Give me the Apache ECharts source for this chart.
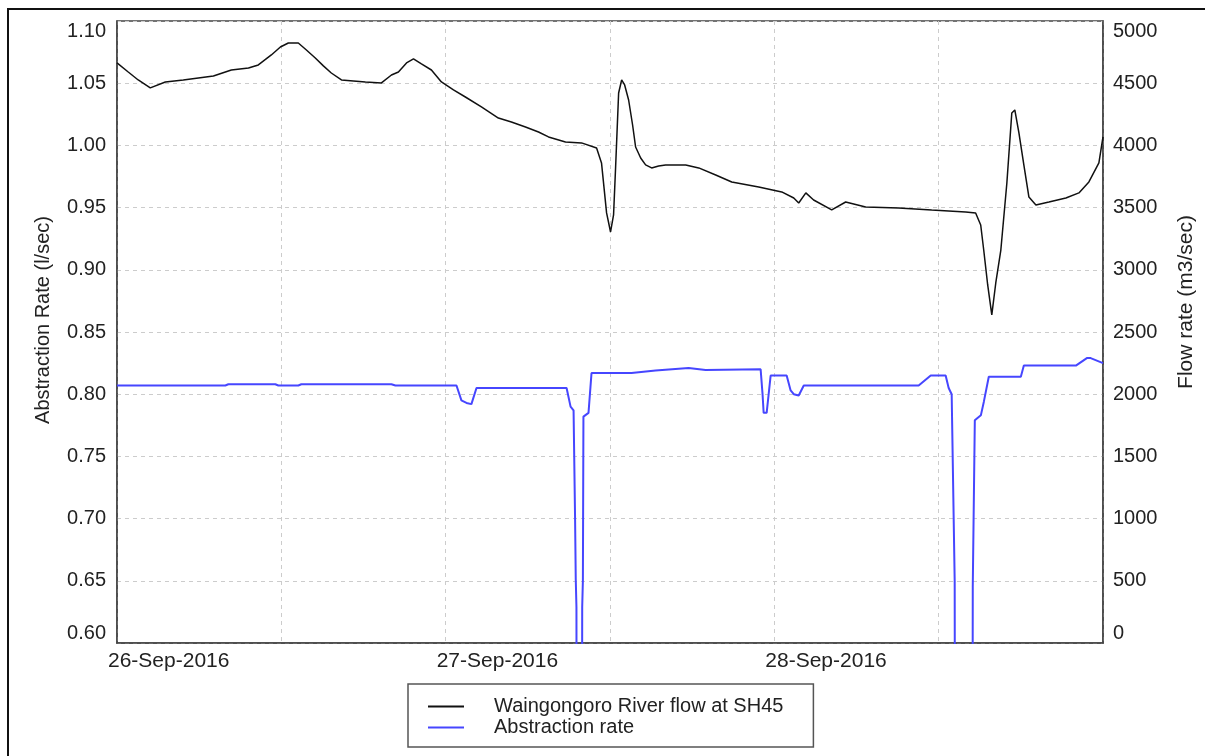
<!DOCTYPE html>
<html>
<head>
<meta charset="utf-8">
<script src="https://cdn.jsdelivr.net/npm/echarts@6/dist/echarts.min.js"></script>
<style>
  html, body { margin: 0; padding: 0; background: #fff; }
  #chartFlow { width: 1205px; height: 756px; }
</style>
</head>
<body>
<div id="chartFlow"></div>
<script>
// hours since 26-Sep-2016 00:00
var xTickLabels = ['26-Sep-2016', '', '27-Sep-2016', '', '28-Sep-2016', '', ''];

var seriesNames = ['Waingongoro River flow at SH45', 'Abstraction rate'];

var flowHours = [0, 0.82, 1.55, 2.43, 3.53, 4.84, 5.94, 7.04, 8.35, 9.6, 10.32, 11.27, 11.93, 12.51, 13.24,
  13.83, 14.48, 15.07, 15.65, 16.39, 17.26, 18.14, 19.31, 20.04, 20.55, 21.14, 21.65, 22.23, 22.96, 23.69,
  24.57, 25.44, 26.61, 27.85, 28.8, 29.83, 30.78, 31.51, 32.75, 33.92, 35.02, 35.38, 35.75, 36.04, 36.26,
  36.41, 36.63, 36.85, 37.07, 37.36, 37.65, 37.87, 38.24, 38.6, 39.04, 39.55, 40.06, 41.53, 42.48, 43.72,
  44.89, 46.86, 48.54, 49.42, 49.78, 50.3, 50.87, 52.19, 53.21, 54.67, 57.08, 59.49, 61.97, 62.7, 63.07,
  63.29, 63.58, 63.88, 64.17, 64.54, 64.98, 65.34, 65.56, 65.86, 66.22, 66.59, 67.1, 68.05, 69.29, 70.24,
  70.97, 71.7, 72];
var flowValues = [4663, 4590, 4526, 4462, 4510, 4526, 4542, 4558, 4606, 4622, 4647, 4727, 4791, 4823, 4823,
  4767, 4703, 4639, 4582, 4526, 4518, 4510, 4502, 4566, 4590, 4663, 4695, 4655, 4606, 4510,
  4446, 4389, 4309, 4220, 4188, 4148, 4108, 4068, 4028, 4020, 3979, 3859, 3457, 3304, 3441,
  3827, 4421, 4526, 4486, 4365, 4164, 3987, 3899, 3843, 3819, 3835, 3843, 3843, 3819, 3762,
  3706, 3666, 3626, 3577, 3537, 3618, 3561, 3481, 3545, 3505, 3497, 3481, 3465, 3457, 3360,
  3159, 2878, 2637, 2894, 3159, 3698, 4261, 4285, 4100, 3843, 3585, 3521, 3545, 3577, 3618,
  3706, 3859, 4068];

var abstrHours = [0, 7.91, 8.13, 11.56, 11.78, 13.24, 13.46, 20.04, 20.33, 24.79, 25.15, 25.52, 25.88, 26.25,
  32.83, 33.12, 33.34, 33.45, 33.5, 33.55, 33.6, 33.92, 33.97, 34.02, 34.06, 34.43, 34.65, 37.57, 39.33,
  41.74, 42.98, 47.0, 47.14, 47.22, 47.44, 47.73, 48.9, 49.19, 49.42, 49.78, 50.15, 58.54, 59.42, 60.51,
  60.73, 60.95, 61.17, 61.25, 62.42, 62.49, 62.64, 63.08, 63.3, 63.66, 66.0, 66.22, 70.02, 70.82, 71.1, 72];
var abstrValues = [0.807, 0.807, 0.808, 0.808, 0.807, 0.807, 0.808, 0.808, 0.807, 0.807, 0.795, 0.793, 0.792, 0.805,
  0.805, 0.790, 0.787, 0.700, 0.651, 0.629, 0, 0, 0.629, 0.650, 0.782, 0.785, 0.817, 0.817, 0.819,
  0.821, 0.8195, 0.820, 0.800, 0.785, 0.785, 0.815, 0.815, 0.803, 0.800, 0.799, 0.807, 0.807, 0.815, 0.815,
  0.805, 0.800, 0.650, 0, 0, 0.645, 0.779, 0.783, 0.794, 0.814, 0.814, 0.823, 0.823, 0.829, 0.829, 0.825];

function pairs(xs, ys) {
  var out = [];
  for (var i = 0; i < xs.length; i++) out.push([xs[i], ys[i]]);
  return out;
}

var chart = echarts.init(document.getElementById('chartFlow'));
var fontFam = '"Liberation Sans", Arial, sans-serif';
var txt = '#222';

var option = {
  backgroundColor: '#fff',
  animation: false,
  textStyle: { fontFamily: fontFam },
  graphic: [{
    type: 'rect',
    shape: { x: 8, y: 9, width: 1220, height: 770 },
    style: { fill: 'none', stroke: '#111', lineWidth: 2 },
    silent: true
  }],
  grid: {
    left: 117, right: 100, top: 21, bottom: 113,
    show: true, borderColor: '#444', borderWidth: 1.5
  },
  legend: {
    orient: 'vertical',
    left: 408, top: 684,
    padding: [12, 30, 9, 19],
    itemGap: 0,
    itemWidth: 36, itemHeight: 21,
    itemStyle: { opacity: 0 },
    borderColor: '#555', borderWidth: 1.5,
    textStyle: { fontSize: 20, color: txt, lineHeight: 21, padding: [0, 0, 0, 25], fontFamily: fontFam },
    data: seriesNames
  },
  xAxis: {
    type: 'value',
    min: 0, max: 72, interval: 12,
    axisLine: { show: true, onZero: false, lineStyle: { color: '#444', width: 1.5 } },
    axisTick: { show: false },
    axisLabel: {
      fontSize: 21, color: txt, margin: 8, align: 'left',
      padding: [0, 0, 0, -9],
      formatter: function (v) { return xTickLabels[Math.round(v / 12)] || ''; }
    },
    splitLine: { show: true, lineStyle: { color: '#cccccc', type: [4, 4], width: 1 } }
  },
  yAxis: [{
    type: 'value',
    min: 0.60, max: 1.10, interval: 0.05,
    position: 'left',
    name: 'Abstraction Rate (l/sec)',
    nameLocation: 'middle', nameRotate: 90, nameGap: 64,
    nameTextStyle: { fontSize: 20, color: txt, padding: [0, 0, 0, 24] },
    axisLine: { show: true, lineStyle: { color: '#444', width: 1.5 } },
    axisTick: { show: false },
    axisLabel: {
      fontSize: 20, color: txt, margin: 11,
      verticalAlignMaxLabel: 'top', verticalAlignMinLabel: 'bottom',
      formatter: function (v) { return v.toFixed(2); }
    },
    splitLine: { show: true, lineStyle: { color: '#cccccc', type: [4, 4], width: 1 } }
  }, {
    type: 'value',
    min: 0, max: 5000, interval: 500,
    position: 'right',
    name: 'Flow rate (m3/sec)',
    nameLocation: 'middle', nameRotate: 90, nameGap: 73,
    nameTextStyle: { fontSize: 21, color: txt, padding: [0, 0, 0, 60] },
    axisLine: { show: true, lineStyle: { color: '#444', width: 1.5 } },
    axisTick: { show: false },
    axisLabel: {
      fontSize: 20, color: txt, margin: 10,
      verticalAlignMaxLabel: 'top', verticalAlignMinLabel: 'bottom',
      formatter: function (v) { return String(Math.round(v)); }
    },
    splitLine: { show: false }
  }],
  series: [{
    name: seriesNames[0],
    type: 'line',
    yAxisIndex: 1,
    symbol: 'none',
    color: '#111',
    lineStyle: { color: '#111', width: 1.5 },
    data: pairs(flowHours, flowValues)
  }, {
    name: seriesNames[1],
    type: 'line',
    yAxisIndex: 0,
    symbol: 'none',
    clip: true,
    color: '#4646ff',
    lineStyle: { color: '#4646ff', width: 2 },
    data: pairs(abstrHours, abstrValues)
  }]
};

chart.setOption(option);

window.onresize = function () {
  chart.resize();
};
</script>
</body>
</html>
